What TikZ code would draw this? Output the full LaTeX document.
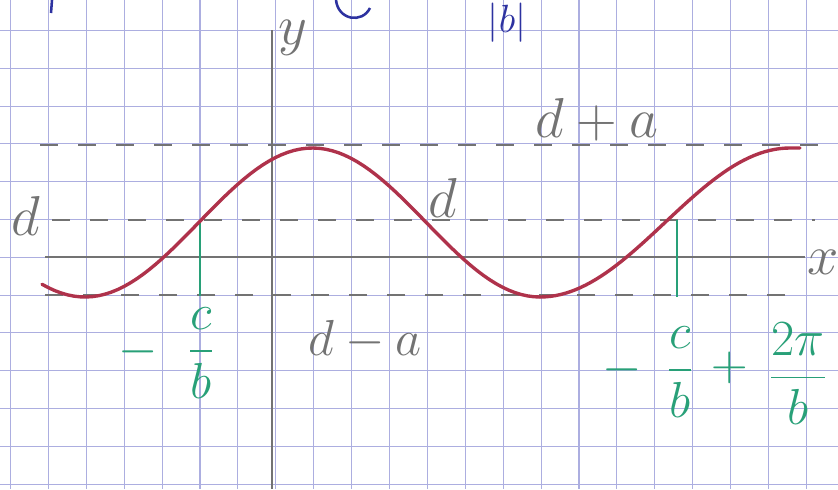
\documentclass[tikz,border=0pt]{standalone}
\usepackage{fix-cm}
\usepackage{amsmath}
\usetikzlibrary{calc}
\definecolor{gridblue}{RGB}{172,174,224}
\definecolor{pencil}{RGB}{115,115,115}
\definecolor{curvered}{RGB}{175,50,75}
\definecolor{inkgreen}{RGB}{40,160,120}
\definecolor{inkblue}{RGB}{45,50,160}

\begin{document}
\begin{tikzpicture}[x=0.025cm, y=-0.025cm,
    gridline/.style={gridblue, line width=0.8pt},
    axis/.style={pencil, line width=1.8pt},
    level/.style={pencil, line width=1.8pt, dash pattern=on 0.45cm off 0.5cm},
    marker/.style={inkgreen, line width=1.8pt},
    curve/.style={curvered, line width=2.4pt, line cap=round},
    pencillabel/.style={text=pencil, font=\fontsize{40}{40}\selectfont, inner sep=0pt},
    greenlabel/.style={text=inkgreen, font=\fontsize{36}{36}\selectfont, inner sep=0pt}]

\useasboundingbox (0,0) rectangle (838,489);
\fill[white] (0,0) rectangle (838,489);

% squared paper
\foreach \i in {0,...,21} \draw[gridline] (10.5+37.9*\i,0) -- (10.5+37.9*\i,489);
\foreach \j in {0,...,12} \draw[gridline] (0,30.5+37.8*\j) -- (838,30.5+37.8*\j);

% ends of the axes and of the levels
\coordinate (ytop) at (272,30);
\coordinate (ybot) at (272,489);
\coordinate (xleft) at (45,257);
\coordinate (xright) at (805,257);
\coordinate (hileft) at (40,145);
\coordinate (hiright) at (835,145);
\coordinate (midleft) at (52,220);
\coordinate (midright) at (815,220);
\coordinate (loleft) at (45,295);
\coordinate (loright) at (805,295);
\coordinate (cross1) at (200,220);
\coordinate (foot1) at (200,296);
\coordinate (cross2) at (677,220);
\coordinate (foot2) at (677,297);

% levels d+a, d, d-a
\draw [level] (hileft) -- (hiright);
\draw [level] (midleft) -- (midright);
\draw [level] (loleft) -- (loright);

% axes
\draw [axis] (xleft) -- (xright);
\draw [axis] (ytop) -- (ybot);

% phase marks
\draw [marker] (cross1) -- (foot1);
\draw [marker] (cross2) -- (foot2);

% the wave
\draw [curve] plot[domain=42:540, samples=80] (\x, {222.5+74.5*cos(0.7912*(\x-85))});
\draw [curve] plot[domain=540:790, samples=50] (\x, {222.5+74.5*cos(0.72*(\x-540))}) -- (800,148);

% pencil labels
\node (dleft) [pencillabel] at (26,216)  {$d$};
\node (ylab)  [pencillabel] at (293,38)  {$y$};
\node (xlab)  [pencillabel] at (823,262) {$x$};
\node (dpa)   [pencillabel] at (597,120) {$d+a$};
\node (dmid)  [pencillabel] at (443,198) {$d$};
\node (dma)   [pencillabel, font=\fontsize{36}{36}\selectfont] at (365,340) {$d-a$};

% green labels
\node (lminus) [greenlabel] at (138,352) {$-$};
\node (lfrac)  [greenlabel] at (201,353) {$\dfrac{c}{b}$};
\node (rminus) [greenlabel] at (622,370) {$-$};
\node (rfrac)  [greenlabel] at (680,372) {$\dfrac{c}{b}$};
\node (rplus)  [greenlabel] at (730,368) {$+$};
\node (rturn)  [greenlabel] at (798,374) {$\dfrac{2\pi}{b}$};

% blue ink cut off at the top
\node (absb) [text=inkblue, font=\fontsize{28}{28}\selectfont, inner sep=0pt, anchor=base] at (507,32) {$|b|$};
\draw [inkblue, line width=1.8pt] (52,0) -- (51,13);
\draw [inkblue, line width=1.8pt] (336,0) .. controls (338,20) and (362,24) .. (370,8);

\end{tikzpicture}
\end{document}
